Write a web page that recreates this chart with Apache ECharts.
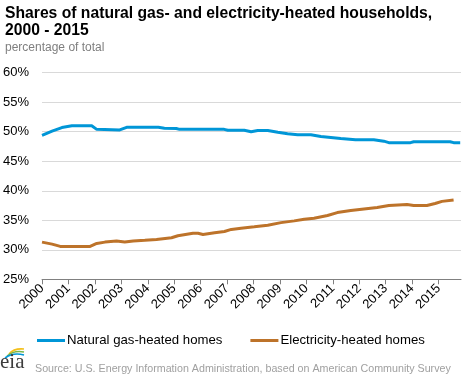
<!DOCTYPE html>
<html>
<head>
<meta charset="utf-8">
<script src="https://cdn.jsdelivr.net/npm/echarts@6/dist/echarts.min.js"></script>
<style>html,body{margin:0;padding:0;background:#fff}#c{width:468px;height:378px}</style>
</head>
<body>
<div id="c"></div>
<script>
// x positions as decimal years, values in percent
var gasYears  = [2000.00,2000.38,2000.75,2001.13,2001.88,2002.07,2002.94,2003.20,2004.40,2004.63,2005.08,2005.20,2006.89,2007.03,2007.65,2007.91,2008.16,2008.54,2008.92,2009.29,2009.67,2010.17,2010.55,2011.30,2011.86,2012.55,2012.93,2013.12,2013.94,2014.06,2015.44,2015.57,2015.82];
var gasValues = [49.4,50.1,50.7,51.0,51.0,50.4,50.3,50.75,50.75,50.6,50.55,50.4,50.4,50.25,50.25,50.0,50.2,50.2,49.9,49.65,49.5,49.5,49.2,48.85,48.65,48.65,48.4,48.15,48.15,48.3,48.3,48.15,48.15];
var elecYears  = [2000.00,2000.38,2000.69,2001.82,2002.07,2002.38,2002.82,2003.13,2003.45,2003.89,2004.33,2004.90,2005.14,2005.71,2005.90,2006.09,2006.53,2006.90,2007.16,2007.53,2008.03,2008.54,2009.04,2009.54,2009.92,2010.29,2010.80,2011.17,2011.68,2012.18,2012.68,2013.12,2013.81,2014.06,2014.56,2014.87,2015.13,2015.57];
var elecValues = [31.3,30.96,30.57,30.57,31.08,31.3,31.47,31.3,31.47,31.6,31.76,32.03,32.37,32.8,32.8,32.6,32.88,33.1,33.45,33.65,33.9,34.17,34.6,34.9,35.19,35.35,35.8,36.3,36.65,36.9,37.15,37.5,37.67,37.5,37.5,37.84,38.2,38.45];
var yearTicks = [2000,2001,2002,2003,2004,2005,2006,2007,2008,2009,2010,2011,2012,2013,2014,2015];
var seriesNames = ['Natural gas-heated homes','Electricity-heated homes'];

function pairs(xs, ys){ return xs.map(function(x,i){ return [x, ys[i]]; }); }

var chart = echarts.init(document.getElementById('c'), null, {renderer:'canvas'});
var font = 'Liberation Sans, Arial, sans-serif';
chart.setOption({
  animation:false,
  textStyle:{fontFamily:font},
  title:[
    {text:'Shares of natural gas- and electricity-heated households,\n2000 - 2015', left:0, top:0,
     textStyle:{fontFamily:font, fontSize:15.7, fontWeight:'bold', color:'#000', lineHeight:17}},
    {text:'percentage of total', left:0, top:37, textStyle:{fontFamily:font, fontSize:12, fontWeight:'normal', color:'#7f7f7f'}}
  ],
  grid:{left:40, right:7, top:72.7, bottom:98.7, containLabel:false},
  legend:{
    data:seriesNames, left:32, top:329, itemWidth:28, itemHeight:3, itemGap:28,
    icon:'rect',
    textStyle:{fontFamily:font, fontSize:13.2, color:'#000', padding:[0,0,0,-3]}
  },
  xAxis:{
    type:'value', min:2000, max:2015.85,
    axisLine:{lineStyle:{color:'#808080', width:1}},
    axisTick:{show:true, length:5, customValues:yearTicks, lineStyle:{color:'#808080'}},
    axisLabel:{customValues:yearTicks, rotate:45, fontSize:13, color:'#000', margin:7, fontFamily:font,
      formatter:function(v){ return String(Math.round(v)); }},
    splitLine:{show:false}
  },
  yAxis:{
    type:'value', min:25, max:60, interval:5,
    axisLine:{show:false}, axisTick:{show:false},
    axisLabel:{formatter:'{value}%', fontSize:13, color:'#000', margin:13, fontFamily:font},
    splitLine:{lineStyle:{color:'#d9d9d9', width:1}}
  },
  series:[
    {name:seriesNames[0], type:'line', data:pairs(gasYears,gasValues), showSymbol:false, symbol:'none',
     lineStyle:{color:'#0096d7', width:3}, itemStyle:{color:'#0096d7'}},
    {name:seriesNames[1], type:'line', data:pairs(elecYears,elecValues), showSymbol:false, symbol:'none',
     lineStyle:{color:'#bd732a', width:3}, itemStyle:{color:'#bd732a'}}
  ],
  graphic:[
    {type:'bezierCurve', shape:{x1:9, y1:354, cpx1:14, cpy1:348, x2:24, y2:349}, style:{stroke:'#f3c01b', lineWidth:1.6, fill:null}},
    {type:'bezierCurve', shape:{x1:7, y1:356, cpx1:14, cpy1:350, x2:24, y2:352}, style:{stroke:'#7ab648', lineWidth:1.6, fill:null}},
    {type:'bezierCurve', shape:{x1:5, y1:358, cpx1:13, cpy1:352, x2:24, y2:355}, style:{stroke:'#0096d7', lineWidth:1.6, fill:null}},
    {type:'text', x:0, y:352, style:{text:'eia', fontSize:21, fontFamily:'Liberation Serif', fill:'#3c3c3c', verticalAlign:'top', align:'left'}},
    {type:'text', left:35, top:364, style:{text:'Source: U.S. Energy Information Administration, based on American Community Survey', fontSize:10.7, fontFamily:'Liberation Sans', fill:'#a0a0a0'}}
  ]
});
</script>
</body>
</html>
